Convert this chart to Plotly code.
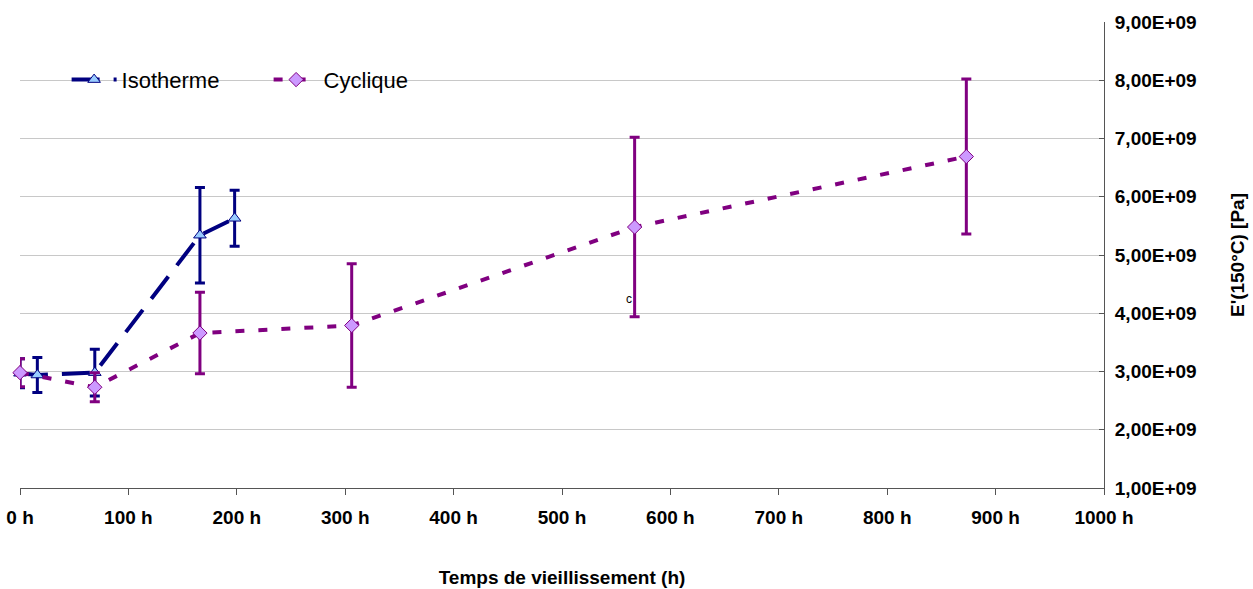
import plotly.graph_objects as go

# Isotherme series
iso_time = [0, 16, 69, 166, 198]
iso_E = [2.97e9, 2.94e9, 2.98e9, 5.34e9, 5.63e9]
iso_err = [0.25e9, 0.30e9, 0.40e9, 0.82e9, 0.48e9]

# Cyclique series
cyc_time = [0, 69, 166, 306, 567, 873]
cyc_E = [2.98e9, 2.73e9, 3.66e9, 3.79e9, 5.48e9, 6.69e9]
cyc_err = [0.24e9, 0.25e9, 0.70e9, 1.06e9, 1.54e9, 1.33e9]

x_ticks = [0, 100, 200, 300, 400, 500, 600, 700, 800, 900, 1000]
y_ticks = [1e9, 2e9, 3e9, 4e9, 5e9, 6e9, 7e9, 8e9, 9e9]
y_ticktext = [f"{v/1e9:.2f}".replace(".", ",") + "E+09" for v in y_ticks]
x_ticktext = [f"{v} h" for v in x_ticks]

NAVY = "#000080"
PURPLE = "#800080"

fig = go.Figure()
fig.add_trace(go.Scatter(
    x=iso_time, y=iso_E, name="Isotherme", mode="lines+markers",
    cliponaxis=False,
    line=dict(color=NAVY, width=4, dash="28px,14px"),
    marker=dict(symbol="triangle-up", size=11, color="#99CCFF",
                line=dict(color=NAVY, width=1)),
    error_y=dict(type="data", array=iso_err, visible=True,
                 color=NAVY, thickness=3, width=5),
))
fig.add_trace(go.Scatter(
    x=cyc_time, y=cyc_E, name="Cyclique", mode="lines+markers",
    cliponaxis=False,
    line=dict(color=PURPLE, width=4, dash="9px,14px"),
    marker=dict(symbol="diamond", size=11, color="#CC99FF",
                line=dict(color=PURPLE, width=1)),
    error_y=dict(type="data", array=cyc_err, visible=True,
                 color=PURPLE, thickness=3, width=5),
))

fig.add_annotation(x=562, y=4.24e9, text="c", showarrow=False,
                   font=dict(family="Liberation Sans, Arial", size=12, color="#000000"))

fig.update_layout(
    width=1253, height=589,
    margin=dict(l=20, r=149, t=22, b=101),
    paper_bgcolor="white", plot_bgcolor="white",
    font=dict(family="Liberation Sans, Arial", color="#000000"),
    showlegend=True,
    legend=dict(
        orientation="h", x=0.043, y=0.876, xanchor="left", yanchor="middle",
        font=dict(size=22, family="Liberation Sans, Arial"),
        bgcolor="rgba(0,0,0,0)", entrywidth=142, itemwidth=45,
        tracegroupgap=0,
    ),
    xaxis=dict(
        range=[0, 1000], tickvals=x_ticks, ticktext=x_ticktext,
        showgrid=False, zeroline=False, automargin=False,
        showline=True, linecolor="#555555", linewidth=1,
        ticks="outside", ticklen=6, tickcolor="#555555",
        tickfont=dict(size=19, family="Liberation Sans, Arial", weight="bold"),
        ticklabelstandoff=6,
        title=dict(text="<b>Temps de vieillissement (h)</b>",
                   font=dict(size=19), standoff=43),
    ),
    yaxis=dict(
        side="right", range=[1e9, 9e9], tickvals=y_ticks, ticktext=y_ticktext,
        showgrid=True, gridcolor="#C8C8C8", gridwidth=1, zeroline=False,
        automargin=False,
        showline=True, linecolor="#555555", linewidth=1,
        ticks="inside", ticklen=5, tickcolor="#555555",
        tickfont=dict(size=19, family="Liberation Sans, Arial", weight="bold"),
        ticklabelstandoff=6,
        title=dict(text="<b>E'(150°C) [Pa]</b>", font=dict(size=19), standoff=35),
    ),
)

fig.write_html("out.html", config={"displayModeBar": False},
               post_script="document.body.style.margin='0px';")
